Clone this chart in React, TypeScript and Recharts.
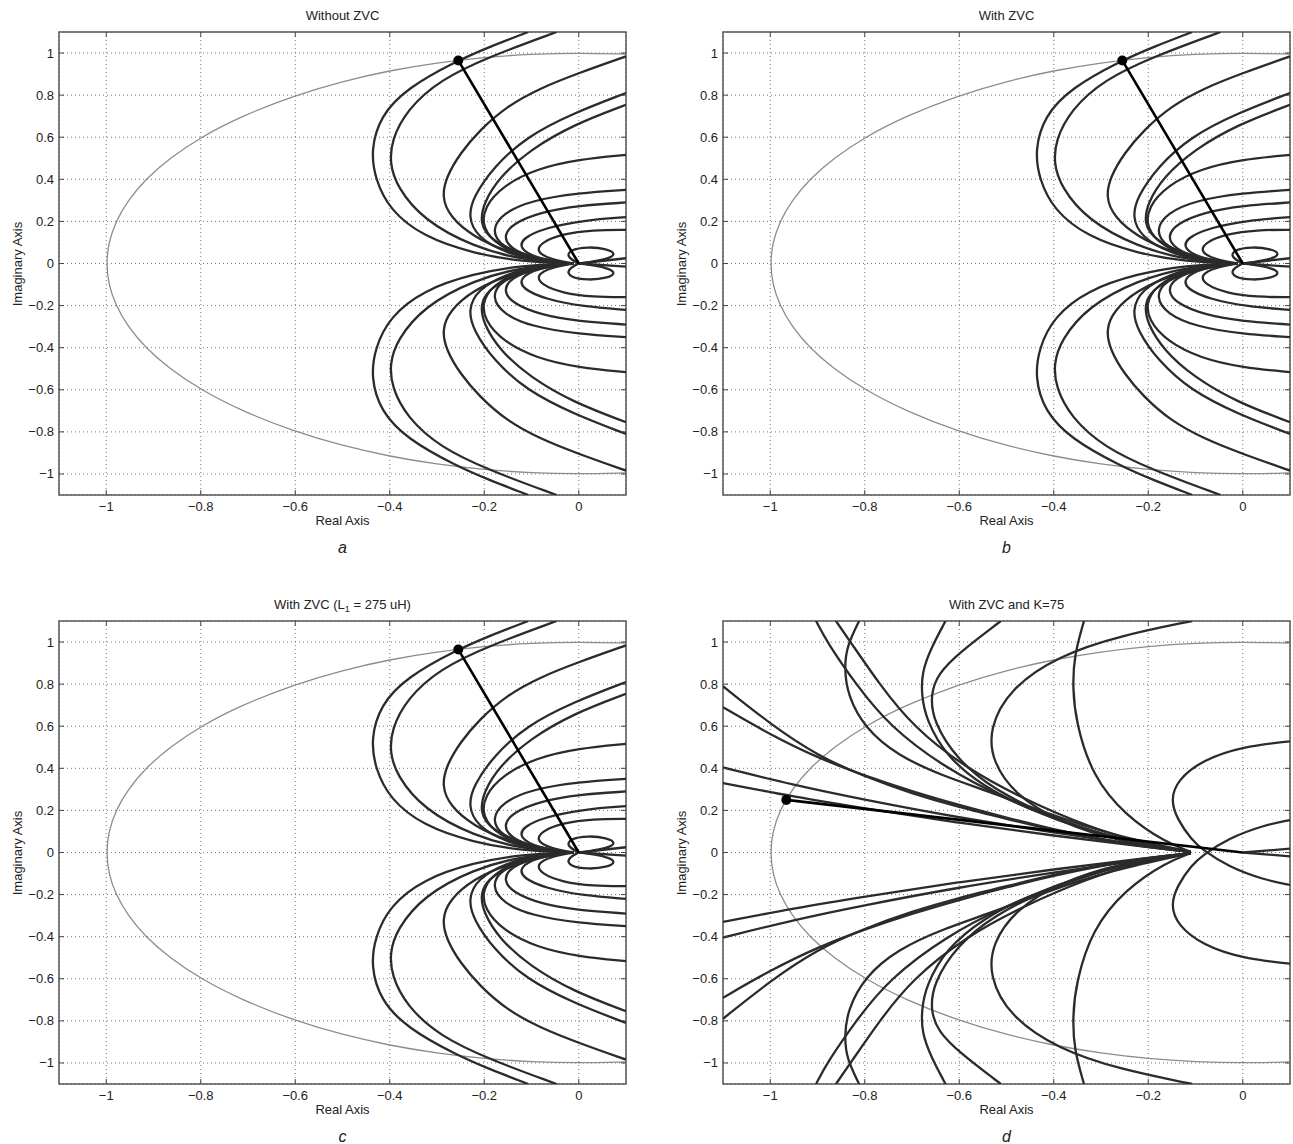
import React from 'react';
import { LineChart, Line, XAxis, YAxis, CartesianGrid, ReferenceArea, ReferenceDot } from 'recharts';

type Pt = [number, number];

const FONT = '"Liberation Sans", Arial, Helvetica, sans-serif';

// axis ticks
const xTicks = [-1, -0.8, -0.6, -0.4, -0.2, 0];
const yTicks = [-1, -0.8, -0.6, -0.4, -0.2, 0, 0.2, 0.4, 0.6, 0.8, 1];

const titles = ['Without ZVC', 'With ZVC', 'With ZVC (L1 = 275 uH)', 'With ZVC and K=75'];
const letters = ['a', 'b', 'c', 'd'];

// grey unit circle
const unitCircle: Pt[] = [
  [0.1, 0.995], [0, 1], [-0.1, 0.995], [-0.2, 0.98], [-0.3, 0.954], [-0.4, 0.917], [-0.5, 0.866],
  [-0.6, 0.8], [-0.714, 0.7], [-0.8, 0.6], [-0.866, 0.5], [-0.917, 0.4], [-0.954, 0.3], [-0.98, 0.2],
  [-0.995, 0.1], [-1, 0], [-0.995, -0.1], [-0.98, -0.2], [-0.954, -0.3], [-0.917, -0.4], [-0.866, -0.5],
  [-0.8, -0.6], [-0.714, -0.7], [-0.6, -0.8], [-0.5, -0.866], [-0.4, -0.917], [-0.3, -0.954],
  [-0.2, -0.98], [-0.1, -0.995], [0, -1], [0.1, -0.995],
];

// root loci, panels a, b, c (upper half)
const lociUpper: Pt[][] = [
  [[-0.02, 0], [-0.118, 0.008], [-0.223, 0.048], [-0.329, 0.127], [-0.4, 0.254], [-0.431, 0.4], [-0.44, 0.54], [-0.42, 0.7], [-0.364, 0.833], [-0.258, 0.963], [-0.188, 1.03], [-0.107, 1.1]],
  [[-0.02, 0], [-0.118, 0.016], [-0.223, 0.079], [-0.329, 0.206], [-0.385, 0.365], [-0.4, 0.476], [-0.396, 0.587], [-0.364, 0.73], [-0.294, 0.873], [-0.188, 0.984], [-0.047, 1.1]],
  [[-0.02, 0], [-0.068, 0.008], [-0.153, 0.056], [-0.223, 0.127], [-0.273, 0.222], [-0.29, 0.317], [-0.28, 0.413], [-0.251, 0.524], [-0.209, 0.635], [-0.153, 0.746], [-0.082, 0.833], [0, 0.905], [0.1, 0.984]],
  [[-0.02, 0], [-0.082, 0.008], [-0.153, 0.048], [-0.216, 0.127], [-0.234, 0.222], [-0.223, 0.317], [-0.18, 0.46], [-0.11, 0.603], [-0.012, 0.714], [0.1, 0.81]],
  [[-0.02, 0], [-0.11, 0.032], [-0.188, 0.111], [-0.209, 0.19], [-0.202, 0.286], [-0.167, 0.413], [-0.103, 0.54], [-0.012, 0.659], [0.1, 0.754]],
  [[-0.02, 0], [-0.1, 0.02], [-0.17, 0.08], [-0.205, 0.17], [-0.2, 0.27], [-0.16, 0.37], [-0.09, 0.45], [0, 0.495], [0.1, 0.516]],
  [[-0.02, 0], [-0.1, 0.025], [-0.165, 0.08], [-0.185, 0.16], [-0.16, 0.24], [-0.1, 0.3], [0, 0.335], [0.1, 0.35]],
  [[-0.02, 0], [-0.09, 0.02], [-0.145, 0.07], [-0.16, 0.13], [-0.14, 0.19], [-0.08, 0.245], [0, 0.275], [0.1, 0.29]],
  [[-0.02, 0], [-0.09, 0.025], [-0.125, 0.07], [-0.12, 0.12], [-0.07, 0.17], [0.01, 0.205], [0.1, 0.22]],
  [[-0.01, 0], [-0.06, 0.02], [-0.09, 0.055], [-0.08, 0.1], [-0.035, 0.14], [0.03, 0.16], [0.1, 0.16]],
  [[0, 0], [-0.025, 0.03], [-0.02, 0.065], [0.02, 0.08], [0.06, 0.07], [0.08, 0.045], [0.06, 0.02], [0.02, 0.005], [0, 0]],
  [[0, 0], [0.1, 0.025]],
];

// root loci, panels a, b, c (lower half)
const lociLower: Pt[][] = [
  [[-0.02, 0], [-0.118, -0.008], [-0.223, -0.048], [-0.329, -0.127], [-0.4, -0.254], [-0.431, -0.4], [-0.44, -0.54], [-0.42, -0.7], [-0.364, -0.833], [-0.258, -0.963], [-0.188, -1.03], [-0.107, -1.1]],
  [[-0.02, 0], [-0.118, -0.016], [-0.223, -0.079], [-0.329, -0.206], [-0.385, -0.365], [-0.4, -0.476], [-0.396, -0.587], [-0.364, -0.73], [-0.294, -0.873], [-0.188, -0.984], [-0.047, -1.1]],
  [[-0.02, 0], [-0.068, -0.008], [-0.153, -0.056], [-0.223, -0.127], [-0.273, -0.222], [-0.29, -0.317], [-0.28, -0.413], [-0.251, -0.524], [-0.209, -0.635], [-0.153, -0.746], [-0.082, -0.833], [0, -0.905], [0.1, -0.984]],
  [[-0.02, 0], [-0.082, -0.008], [-0.153, -0.048], [-0.216, -0.127], [-0.234, -0.222], [-0.223, -0.317], [-0.18, -0.46], [-0.11, -0.603], [-0.012, -0.714], [0.1, -0.81]],
  [[-0.02, 0], [-0.11, -0.032], [-0.188, -0.111], [-0.209, -0.19], [-0.202, -0.286], [-0.167, -0.413], [-0.103, -0.54], [-0.012, -0.659], [0.1, -0.754]],
  [[-0.02, 0], [-0.1, -0.02], [-0.17, -0.08], [-0.205, -0.17], [-0.2, -0.27], [-0.16, -0.37], [-0.09, -0.45], [0, -0.495], [0.1, -0.516]],
  [[-0.02, 0], [-0.1, -0.025], [-0.165, -0.08], [-0.185, -0.16], [-0.16, -0.24], [-0.1, -0.3], [0, -0.335], [0.1, -0.35]],
  [[-0.02, 0], [-0.09, -0.02], [-0.145, -0.07], [-0.16, -0.13], [-0.14, -0.19], [-0.08, -0.245], [0, -0.275], [0.1, -0.29]],
  [[-0.02, 0], [-0.09, -0.025], [-0.125, -0.07], [-0.12, -0.12], [-0.07, -0.17], [0.01, -0.205], [0.1, -0.22]],
  [[-0.01, 0], [-0.06, -0.02], [-0.09, -0.055], [-0.08, -0.1], [-0.035, -0.14], [0.03, -0.16], [0.1, -0.16]],
  [[0, 0], [-0.025, -0.03], [-0.02, -0.065], [0.02, -0.08], [0.06, -0.07], [0.08, -0.045], [0.06, -0.02], [0.02, -0.005], [0, 0]],
  [[0, 0], [0.1, -0.015]],
];

// root loci, panel d (K=75)
const kUpper: Pt[][] = [
  [[-1.1, 0.79], [-1.0, 0.61], [-0.9, 0.46], [-0.8, 0.36], [-0.7, 0.28], [-0.6, 0.215], [-0.5, 0.16], [-0.4, 0.105], [-0.3, 0.06], [-0.2, 0.025], [-0.11, 0.003]],
  [[-1.1, 0.69], [-1.0, 0.56], [-0.9, 0.45], [-0.8, 0.365], [-0.7, 0.29], [-0.6, 0.225], [-0.5, 0.165], [-0.4, 0.11], [-0.3, 0.063], [-0.2, 0.026], [-0.11, 0.003]],
  [[-1.1, 0.404], [-0.95, 0.32], [-0.8, 0.25], [-0.6, 0.165], [-0.4, 0.095], [-0.2, 0.03], [-0.11, 0.003]],
  [[-1.1, 0.33], [-0.95, 0.265], [-0.8, 0.21], [-0.6, 0.14], [-0.4, 0.08], [-0.2, 0.025], [-0.11, 0.003]],
  [[-0.903, 1.1], [-0.88, 1.0], [-0.819, 0.8], [-0.748, 0.6], [-0.629, 0.4], [-0.5, 0.25], [-0.35, 0.12], [-0.22, 0.04], [-0.11, 0.003]],
  [[-0.861, 1.1], [-0.83, 1.0], [-0.769, 0.8], [-0.699, 0.6], [-0.586, 0.4], [-0.46, 0.25], [-0.33, 0.125], [-0.21, 0.04], [-0.11, 0.003]],
  [[-0.812, 1.1], [-0.838, 0.98], [-0.843, 0.88], [-0.837, 0.75], [-0.8, 0.59], [-0.73, 0.46], [-0.636, 0.365], [-0.537, 0.29], [-0.42, 0.19], [-0.28, 0.085], [-0.11, 0.003]],
  [[-0.629, 1.1], [-0.66, 0.97], [-0.679, 0.857], [-0.68, 0.75], [-0.67, 0.63], [-0.627, 0.456], [-0.55, 0.314], [-0.451, 0.203], [-0.337, 0.108], [-0.222, 0.044], [-0.11, 0.003]],
  [[-0.512, 1.1], [-0.6, 0.95], [-0.645, 0.85], [-0.661, 0.75], [-0.655, 0.62], [-0.604, 0.44], [-0.527, 0.3], [-0.428, 0.19], [-0.321, 0.1], [-0.21, 0.04], [-0.11, 0.003]],
  [[-0.107, 1.1], [-0.26, 1.03], [-0.389, 0.936], [-0.494, 0.778], [-0.537, 0.587], [-0.53, 0.43], [-0.48, 0.27], [-0.389, 0.145], [-0.26, 0.05], [-0.11, 0.003]],
  [[-0.336, 1.1], [-0.357, 0.936], [-0.36, 0.78], [-0.353, 0.619], [-0.319, 0.365], [-0.248, 0.174], [-0.163, 0.048], [-0.11, 0.003]],
  [[0.1, 0.528], [0, 0.504], [-0.085, 0.44], [-0.138, 0.345], [-0.153, 0.25], [-0.138, 0.155], [-0.108, 0.06], [-0.085, 0.013], [-0.031, -0.067], [0.045, -0.13], [0.1, -0.154]],
  [[0, 0], [0.1, 0.018]],
];

const kLower: Pt[][] = [
  [[-1.1, -0.79], [-1.0, -0.61], [-0.9, -0.46], [-0.8, -0.36], [-0.7, -0.28], [-0.6, -0.215], [-0.5, -0.16], [-0.4, -0.105], [-0.3, -0.06], [-0.2, -0.025], [-0.11, -0.003]],
  [[-1.1, -0.69], [-1.0, -0.56], [-0.9, -0.45], [-0.8, -0.365], [-0.7, -0.29], [-0.6, -0.225], [-0.5, -0.165], [-0.4, -0.11], [-0.3, -0.063], [-0.2, -0.026], [-0.11, -0.003]],
  [[-1.1, -0.404], [-0.95, -0.32], [-0.8, -0.25], [-0.6, -0.165], [-0.4, -0.095], [-0.2, -0.03], [-0.11, -0.003]],
  [[-1.1, -0.33], [-0.95, -0.265], [-0.8, -0.21], [-0.6, -0.14], [-0.4, -0.08], [-0.2, -0.025], [-0.11, -0.003]],
  [[-0.903, -1.1], [-0.88, -1.0], [-0.819, -0.8], [-0.748, -0.6], [-0.629, -0.4], [-0.5, -0.25], [-0.35, -0.12], [-0.22, -0.04], [-0.11, -0.003]],
  [[-0.861, -1.1], [-0.83, -1.0], [-0.769, -0.8], [-0.699, -0.6], [-0.586, -0.4], [-0.46, -0.25], [-0.33, -0.125], [-0.21, -0.04], [-0.11, -0.003]],
  [[-0.812, -1.1], [-0.838, -0.98], [-0.843, -0.88], [-0.837, -0.75], [-0.8, -0.59], [-0.73, -0.46], [-0.636, -0.365], [-0.537, -0.29], [-0.42, -0.19], [-0.28, -0.085], [-0.11, -0.003]],
  [[-0.629, -1.1], [-0.66, -0.97], [-0.679, -0.857], [-0.68, -0.75], [-0.67, -0.63], [-0.627, -0.456], [-0.55, -0.314], [-0.451, -0.203], [-0.337, -0.108], [-0.222, -0.044], [-0.11, -0.003]],
  [[-0.512, -1.1], [-0.6, -0.95], [-0.645, -0.85], [-0.661, -0.75], [-0.655, -0.62], [-0.604, -0.44], [-0.527, -0.3], [-0.428, -0.19], [-0.321, -0.1], [-0.21, -0.04], [-0.11, -0.003]],
  [[-0.107, -1.1], [-0.26, -1.03], [-0.389, -0.936], [-0.494, -0.778], [-0.537, -0.587], [-0.53, -0.43], [-0.48, -0.27], [-0.389, -0.145], [-0.26, -0.05], [-0.11, -0.003]],
  [[-0.336, -1.1], [-0.357, -0.936], [-0.36, -0.78], [-0.353, -0.619], [-0.319, -0.365], [-0.248, -0.174], [-0.163, -0.048], [-0.11, -0.003]],
  [[0.1, -0.528], [0, -0.504], [-0.085, -0.44], [-0.138, -0.345], [-0.153, -0.25], [-0.138, -0.155], [-0.108, -0.06], [-0.085, -0.013], [-0.031, 0.067], [0.045, 0.13], [0.1, 0.154]],
  [[0, 0], [0.1, -0.018]],
];

// stability-limit markers (point on the unit circle, joined to the origin)
const markerABC: Pt = [-0.255, 0.965];
const markerD: Pt = [-0.966, 0.25];
const origin: Pt = [0, 0];

const rows = (pts: Pt[]) => pts.map(([x, y]) => ({ x, y }));

const CHART_W = 628;
const CHART_H = 540;
const PLOT_L = 59;
const PLOT_R = 626;
const PLOT_T = 32;
const PLOT_B = 495;

const fmt = (v: number) => (v < 0 ? '\u2212' : '') + String(Math.abs(v));

function XTick(props: any) {
  const { x, payload } = props;
  return (
    <g>
      <line x1={x} y1={PLOT_B} x2={x} y2={PLOT_B - 5} stroke="#444" />
      <line x1={x} y1={PLOT_T} x2={x} y2={PLOT_T + 5} stroke="#444" />
      <text x={x} y={PLOT_B + 16} textAnchor="middle" fontSize={13} fontFamily={FONT} fill="#222">
        {fmt(payload.value)}
      </text>
    </g>
  );
}

function YTick(props: any) {
  const { y, payload } = props;
  return (
    <g>
      <line x1={PLOT_L} y1={y} x2={PLOT_L + 5} y2={y} stroke="#444" />
      <line x1={PLOT_R} y1={y} x2={PLOT_R - 5} y2={y} stroke="#444" />
      <text x={PLOT_L - 5} y={y + 4.5} textAnchor="end" fontSize={13} fontFamily={FONT} fill="#222">
        {fmt(payload.value)}
      </text>
    </g>
  );
}

function Panel({ left, top, title, letter, upper, lower, marker }: any) {
  const curves: Pt[][] = [...upper, ...lower];
  return (
    <div style={{ position: 'absolute', left, top, width: CHART_W, height: 580, fontFamily: FONT, color: '#222' }}>
      <div style={{ position: 'absolute', left: PLOT_L, width: PLOT_R - PLOT_L, top: 9, textAlign: 'center', fontSize: 13, lineHeight: '14px' }}>
        {title}
      </div>
      <LineChart width={CHART_W} height={CHART_H} margin={{ top: PLOT_T, right: CHART_W - PLOT_R, bottom: 20, left: 0 }}>
        <CartesianGrid stroke="#777" strokeDasharray="1 3" />
        <XAxis
          type="number"
          dataKey="x"
          domain={[-1.1, 0.1]}
          ticks={xTicks}
          allowDataOverflow
          height={25}
          tickLine={false}
          axisLine={false}
          tick={(p: any) => <XTick {...p} />}
        />
        <YAxis
          type="number"
          domain={[-1.1, 1.1]}
          ticks={yTicks}
          allowDataOverflow
          width={PLOT_L}
          tickLine={false}
          axisLine={false}
          tick={(p: any) => <YTick {...p} />}
        />
        <Line data={rows(unitCircle)} dataKey="y" type="basis" stroke="#8c8c8c" strokeWidth={1.3} dot={false} isAnimationActive={false} />
        {curves.map((c, i) => (
          <Line key={i} data={rows(c)} dataKey="y" type="basis" stroke="#2b2b2b" strokeWidth={2.3} dot={false} isAnimationActive={false} />
        ))}
        <Line data={rows([marker, origin])} dataKey="y" type="linear" stroke="#000" strokeWidth={2.6} dot={false} isAnimationActive={false} />
        <ReferenceDot x={marker[0]} y={marker[1]} r={5} fill="#000" stroke="none" />
        <ReferenceArea x1={-1.1} x2={0.1} y1={-1.1} y2={1.1} fill="none" fillOpacity={0} stroke="#555" strokeWidth={1.5} />
      </LineChart>
      <div style={{ position: 'absolute', left: 18 - 100, top: 264 - 7, width: 200, textAlign: 'center', fontSize: 13, lineHeight: '14px', transform: 'rotate(-90deg)' }}>
        Imaginary Axis
      </div>
      <div style={{ position: 'absolute', left: PLOT_L, width: PLOT_R - PLOT_L, top: 514, textAlign: 'center', fontSize: 13, lineHeight: '14px' }}>
        Real Axis
      </div>
      <div style={{ position: 'absolute', left: PLOT_L, width: PLOT_R - PLOT_L, top: 539, textAlign: 'center', fontSize: 16, lineHeight: '17px', fontStyle: 'italic' }}>
        {letter}
      </div>
    </div>
  );
}

const titleC = (
  <>
    With ZVC (L<sub style={{ fontSize: 9, verticalAlign: '-3px' }}>1</sub> = 275 uH)
  </>
);

export default function App() {
  return (
    <div style={{ position: 'absolute', left: 0, top: 0, width: 1293, height: 1144, background: '#fff', overflow: 'hidden' }}>
      <Panel left={0} top={0} title={titles[0]} letter={letters[0]} upper={lociUpper} lower={lociLower} marker={markerABC} />
      <Panel left={664} top={0} title={titles[1]} letter={letters[1]} upper={lociUpper} lower={lociLower} marker={markerABC} />
      <Panel left={0} top={589} title={titleC} letter={letters[2]} upper={lociUpper} lower={lociLower} marker={markerABC} />
      <Panel left={664} top={589} title={titles[3]} letter={letters[3]} upper={kUpper} lower={kLower} marker={markerD} />
    </div>
  );
}
